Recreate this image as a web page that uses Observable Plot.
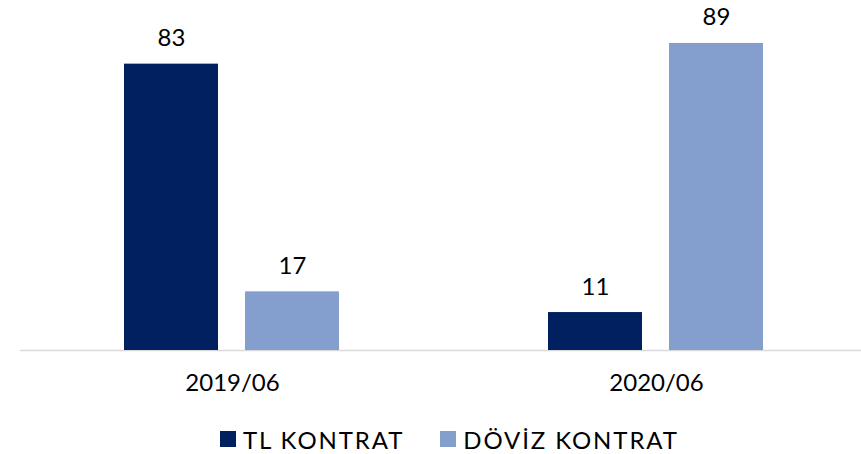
<!DOCTYPE html>
<html>
<head>
<meta charset="utf-8">
<script src="https://cdn.jsdelivr.net/npm/d3@7"></script>
<script src="https://cdn.jsdelivr.net/npm/@observablehq/plot@0.6"></script>
<style>
  html, body { margin: 0; padding: 0; background: #fff; }
  #chart { width: 861px; }
  .legend { display: flex; justify-content: flex-start; align-items: center; height: 38px; padding-top: 8px; box-sizing: border-box; padding-left: 220px;
    font-family: Lato, "Open Sans", sans-serif; font-size: 24px; letter-spacing: 1.9px; color: #000; }
  .legend .item { display: flex; align-items: center; margin-right: 36px; }
  .legend .sw { width: 16px; height: 16px; margin-right: 7px; }
</style>
</head>
<body>
<div id="chart"></div>
<script>
const dates = ["2019/06", "2020/06"];
const series = ["TL KONTRAT", "DÖVİZ KONTRAT"];
const tlValues = [83, 11];
const dovizValues = [17, 89];
const colors = ["#00205F", "#849FCE"];

const data = [];
dates.forEach((d, i) => {
  data.push({date: d, series: series[0], value: tlValues[i]});
  data.push({date: d, series: series[1], value: dovizValues[i]});
});

const plot = Plot.plot({
  width: 861,
  height: 416,
  marginTop: 5,
  marginBottom: 66,
  marginLeft: 0,
  marginRight: 0,
  style: {fontFamily: "Lato, 'Open Sans', sans-serif", fontSize: "24px", color: "#000", background: "#fff"},
  fx: {domain: dates, range: [19.5, 868.5], padding: 0, axis: "bottom", tickSize: 0, tickPadding: 23, label: null},
  x: {domain: series, paddingInner: 0.22, paddingOuter: 0.85, axis: null},
  y: {domain: [0, 100], axis: null},
  color: {domain: series, range: colors},
  marks: [
    Plot.ruleY([0], {stroke: "#d9d9d9", strokeWidth: 1.5}),
    Plot.barY(data, {fx: "date", x: "series", y: "value", fill: "series"}),
    Plot.text(data, {fx: "date", x: "series", y: "value", text: d => String(d.value), lineAnchor: "bottom", dy: -18, fontSize: 24, fill: "#000"})
  ]
});
document.getElementById("chart").appendChild(plot);

const legend = document.createElement("div");
legend.className = "legend";
series.forEach((s, i) => {
  const item = document.createElement("div");
  item.className = "item";
  const sw = document.createElement("span");
  sw.className = "sw";
  sw.style.background = colors[i];
  const t = document.createElement("span");
  t.textContent = s;
  item.appendChild(sw);
  item.appendChild(t);
  legend.appendChild(item);
});
document.body.appendChild(legend);
</script>
</body>
</html>
